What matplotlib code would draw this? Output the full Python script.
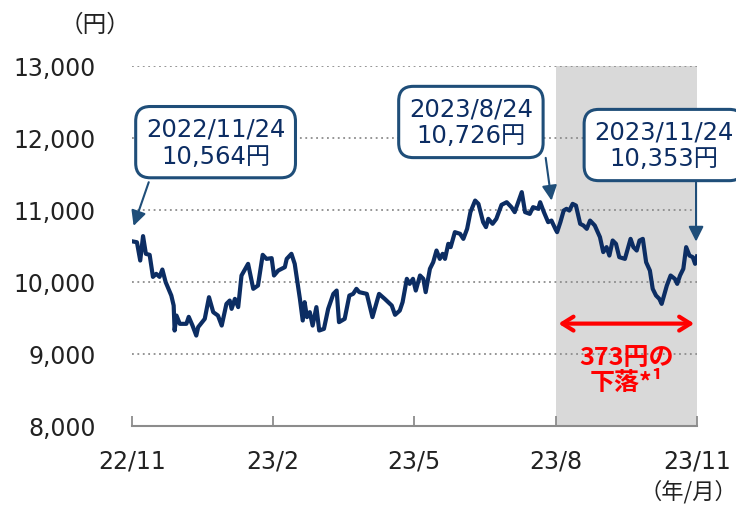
import matplotlib
matplotlib.use('Agg')
import matplotlib.pyplot as plt

plt.rcParams['font.family'] = ['DejaVu Sans', 'Noto Sans CJK JP']

# months since 22/11 and price (yen)
t = [0.00, 0.11, 0.18, 0.24, 0.30, 0.38, 0.45, 0.52, 0.59, 0.65, 0.72, 0.84, 0.89, 0.91, 0.95,
     1.02, 1.16, 1.21, 1.29, 1.37, 1.41, 1.55, 1.64, 1.73, 1.83, 1.91, 2.01, 2.08, 2.12, 2.19,
     2.26, 2.33, 2.47, 2.58, 2.68, 2.78, 2.86, 2.97, 3.02, 3.11, 3.25, 3.29, 3.39, 3.46, 3.57,
     3.63, 3.67, 3.72, 3.78, 3.84, 3.92, 3.98, 4.08, 4.17, 4.28, 4.35, 4.40, 4.52, 4.62, 4.70,
     4.77, 4.83, 4.99, 5.11, 5.25, 5.37, 5.52, 5.59, 5.69, 5.75, 5.84, 5.90, 5.97, 6.03, 6.12,
     6.19, 6.24, 6.33, 6.40, 6.47, 6.54, 6.60, 6.65, 6.72, 6.77, 6.86, 6.97, 7.04, 7.12, 7.19,
     7.29, 7.36, 7.46, 7.52, 7.57, 7.66, 7.74, 7.85, 7.96, 8.06, 8.13, 8.28, 8.35, 8.45, 8.52,
     8.63, 8.67, 8.75, 8.84, 8.91, 8.96, 9.00, 9.03, 9.10, 9.17, 9.23, 9.29, 9.36, 9.43, 9.52,
     9.59, 9.66, 9.73, 9.83, 9.94, 10.01, 10.08, 10.14, 10.21, 10.28, 10.35, 10.47, 10.54, 10.59,
     10.65, 10.72, 10.78, 10.85, 10.92, 11.00, 11.06, 11.13, 11.20, 11.25, 11.30, 11.36, 11.44,
     11.53, 11.58, 11.64, 11.71, 11.77, 11.84, 11.91, 11.96, 12.00]
price = [10564, 10550, 10296, 10635, 10389, 10375, 10069, 10111, 10069, 10171, 9996, 9810, 9671, 9324, 9532,
         9417, 9417, 9514, 9393, 9254, 9371, 9486, 9787, 9579, 9532, 9393, 9694, 9740, 9625, 9764,
         9649, 10088, 10250, 9903, 9949, 10375, 10319, 10329, 10088, 10157, 10204, 10319, 10389, 10250, 9764,
         9463, 9718, 9510, 9579, 9393, 9649, 9324, 9347, 9625, 9833, 9879, 9440, 9486, 9810, 9833,
         9903, 9857, 9833, 9510, 9833, 9764, 9671, 9542, 9601, 9718, 10042, 9972, 10042, 9879, 10088,
         10042, 9857, 10181, 10273, 10435, 10319, 10389, 10319, 10528, 10482, 10690, 10667, 10597, 10736, 10968,
         11129, 11083, 10829, 10760, 10875, 10806, 10875, 11069, 11106, 11037, 10968, 11246, 10968, 10944, 11037,
         11014, 11106, 10968, 10829, 10851, 10782, 10726, 10690, 10829, 10990, 11014, 10990, 11083, 11060, 10806,
         10782, 10736, 10851, 10782, 10621, 10413, 10482, 10365, 10574, 10528, 10343, 10319, 10482, 10597,
         10482, 10435, 10574, 10597, 10273, 10157, 9903, 9810, 9764, 9694, 9810, 9949, 10088,
         10042, 9972, 10088, 10181, 10482, 10365, 10343, 10250, 10353]

tick_pos = [0, 3, 6, 9, 12]
tick_labels = ['22/11', '23/2', '23/5', '23/8', '23/11']
y_ticks = [8000, 9000, 10000, 11000, 12000, 13000]

navy = '#0c2d63'
box_col = '#1f4e79'

fig = plt.figure(figsize=(7.36, 5.10), dpi=100)
ax = fig.add_axes([0.179, 0.163, 0.768, 0.706])

ax.axvspan(9, 12, color='#d9d9d9', zorder=0, lw=0)
for v in y_ticks[1:]:
    ax.axhline(v, color='#8c8c8c', ls=(0, (1, 2)), lw=1.3, zorder=1)
ax.plot(t, price, color=navy, lw=3, zorder=3)

ax.set_xlim(0, 12)
ax.set_ylim(8000, 13000)
ax.set_yticks(y_ticks)
ax.set_yticklabels([f'{v:,}' for v in y_ticks], fontsize=17)
ax.set_xticks(tick_pos)
ax.set_xticklabels(tick_labels, fontsize=17)
ax.tick_params(axis='y', length=0, pad=26, colors='#222222')
ax.tick_params(axis='x', direction='in', length=7, width=1.3, pad=16, colors='#222222')
ax.tick_params(axis='x', color='#8c8c8c')
for s in ['top', 'right', 'left']:
    ax.spines[s].set_visible(False)
ax.spines['bottom'].set_color('#8c8c8c')
ax.spines['bottom'].set_linewidth(1.5)

box = dict(boxstyle='round,pad=0.42,rounding_size=0.6', fc='white', ec=box_col, lw=2.2)
arr = dict(arrowstyle='-|>,head_length=0.9,head_width=0.45', color=box_col, lw=1.5)

ax.text(1.78, 11940, '2022/11/24\n10,564円', ha='center', va='center', fontsize=17.5,
        color=navy, bbox=box, zorder=6, linespacing=1.15)
ax.annotate('', xy=(0.02, 10740), xytext=(0.38, 11420), arrowprops=arr, zorder=5)

ax.text(7.2, 12220, '2023/8/24\n10,726円', ha='center', va='center', fontsize=17.5,
        color=navy, bbox=box, zorder=6, linespacing=1.15)
ax.annotate('', xy=(8.92, 11090), xytext=(8.78, 11760), arrowprops=arr, zorder=5)

ax.text(11.3, 11900, '2023/11/24\n10,353円', ha='center', va='center', fontsize=17.5,
        color=navy, bbox=box, zorder=6, linespacing=1.15, clip_on=False)
ax.annotate('', xy=(11.98, 10520), xytext=(11.98, 11420), arrowprops=arr, zorder=5,
            annotation_clip=False)

ax.annotate('', xy=(9.0, 9420), xytext=(12.0, 9420),
            arrowprops=dict(arrowstyle='<->,head_length=0.8,head_width=0.5', color='#ff0000', lw=3),
            zorder=5)
ax.text(10.5, 8780, '373円の\n下落*¹', ha='center', va='center', fontsize=18, color='#ff0000',
        fontweight='bold', family=['Noto Sans CJK JP', 'DejaVu Sans'], linespacing=1.05, zorder=5)

fig.text(0.129, 0.951, '（円）', ha='center', va='center', fontsize=17, color='#222222',
         family=['Noto Sans CJK JP'])
fig.text(0.935, 0.036, '（年/月）', ha='center', va='center', fontsize=16, color='#222222',
         family=['Noto Sans CJK JP'])

fig.savefig('out.png', dpi=100)
